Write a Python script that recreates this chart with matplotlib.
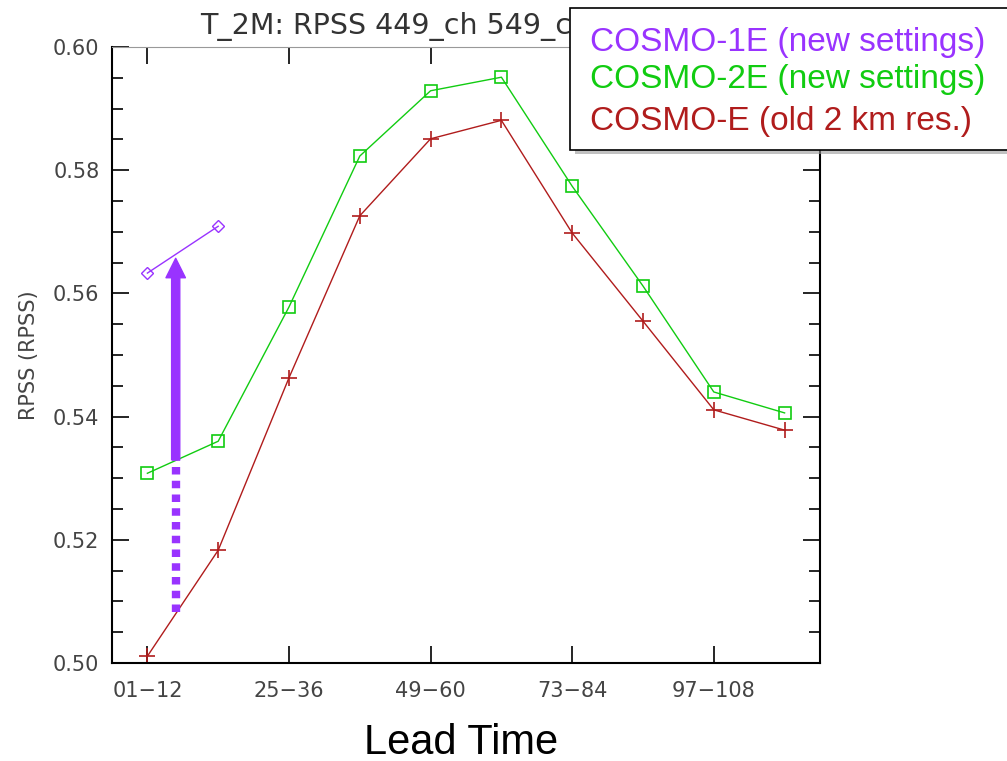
import matplotlib
matplotlib.use('Agg')
import matplotlib.pyplot as plt
from matplotlib.patches import Rectangle

# lead time classes (12h bins), only every second one is labelled
lead_idx = [0, 1, 2, 3, 4, 5, 6, 7, 8, 9]
tick_pos = [0, 2, 4, 6, 8]
tick_labels = ['01−12', '25−36', '49−60', '73−84', '97−108']

rpss_c2e = [0.5308, 0.5360, 0.5578, 0.5823, 0.5929, 0.5951, 0.5774, 0.5612, 0.5440, 0.5406]
rpss_ce = [0.5011, 0.5183, 0.5463, 0.5726, 0.5851, 0.5881, 0.5698, 0.5555, 0.5411, 0.5378]
c1e_idx = [0, 1]
rpss_c1e = [0.5633, 0.5709]

# arrow from old to new: x position, dotted start, solid start, tip
arrow_x = 0.4
arrow_y = [0.5083, 0.5330, 0.5657]

purple = '#9933ff'
green = '#11cc11'
red = '#b01c1c'
grey = '#444444'

fig = plt.figure(figsize=(10.07, 7.61), dpi=100)
ax = fig.add_axes([0.1112, 0.1288, 0.7031, 0.8094])

ax.plot(lead_idx, rpss_c2e, color=green, lw=1, marker='s', ms=9, mfc='none', mec=green, mew=1.2)
ax.plot(lead_idx, rpss_ce, color=red, lw=1, marker='+', ms=11, mew=1.2)
ax.plot(c1e_idx, rpss_c1e, color=purple, lw=1, marker='D', ms=6, mfc='none', mec=purple, mew=1)

ax.plot([arrow_x, arrow_x], [arrow_y[0], arrow_y[1]], color=purple, lw=6,
        linestyle=(0, (0.9, 0.75)), solid_capstyle='butt', dash_capstyle='butt')
ax.annotate('', xy=(arrow_x, arrow_y[2]), xytext=(arrow_x, arrow_y[1]),
            arrowprops=dict(arrowstyle='simple,head_length=1.0,head_width=1.0,tail_width=0.42',
                            color=purple, shrinkA=0, shrinkB=0, mutation_scale=14))

ax.set_xlim(-0.5, 9.5)
ax.set_ylim(0.50, 0.60)
ax.set_xticks(tick_pos)
ax.set_xticklabels(tick_labels, fontsize=15)
ax.set_yticks([0.50, 0.52, 0.54, 0.56, 0.58, 0.60])
ax.set_yticklabels(['0.50', '0.52', '0.54', '0.56', '0.58', '0.60'], fontsize=15)
ax.set_yticks([0.505, 0.51, 0.515, 0.525, 0.53, 0.535, 0.545, 0.55, 0.555,
               0.565, 0.57, 0.575, 0.585, 0.59, 0.595], minor=True)
ax.tick_params(which='both', direction='in', top=True, right=True, colors='black',
               labelcolor=grey)
ax.tick_params(axis='y', pad=9)
ax.tick_params(axis='x', pad=13)
ax.tick_params(which='major', length=12, width=1.2)
ax.tick_params(which='minor', length=8, width=1.2)
for s in ['left', 'bottom', 'right']:
    ax.spines[s].set_linewidth(1.5)
ax.spines['top'].set_color('#999999')

ax.set_ylabel('RPSS (RPSS)', fontsize=15, color=grey, labelpad=10)
fig.text(0.458, 1 - 754 / 761, 'Lead Time', fontsize=30, family='Liberation Sans',
         ha='center', va='baseline')

fig.text(0.199, 0.965, 'T_2M: RPSS 449_ch 549_ch', fontsize=20.5, color='#333333',
         ha='left', va='center', zorder=1)

# legend box, drawn on top of the title
shadow = Rectangle((0.571, 0.797), 0.44, 0.189, transform=fig.transFigure,
                   facecolor='#999999', edgecolor='none', alpha=0.6, zorder=4)
box = Rectangle((0.566, 0.803), 0.44, 0.187, transform=fig.transFigure,
                facecolor='white', edgecolor='black', lw=1.2, zorder=5)
fig.patches.extend([shadow, box])
legend_txt = ['COSMO-1E (new settings)', 'COSMO-2E (new settings)', 'COSMO-E (old 2 km res.)']
legend_col = [purple, green, red]
legend_y = [0.944, 0.895, 0.840]
for t, c, y in zip(legend_txt, legend_col, legend_y):
    fig.text(0.586, y, t, color=c, fontsize=24, family='Liberation Sans', va='center', zorder=6)

fig.savefig('out.png', dpi=100)
